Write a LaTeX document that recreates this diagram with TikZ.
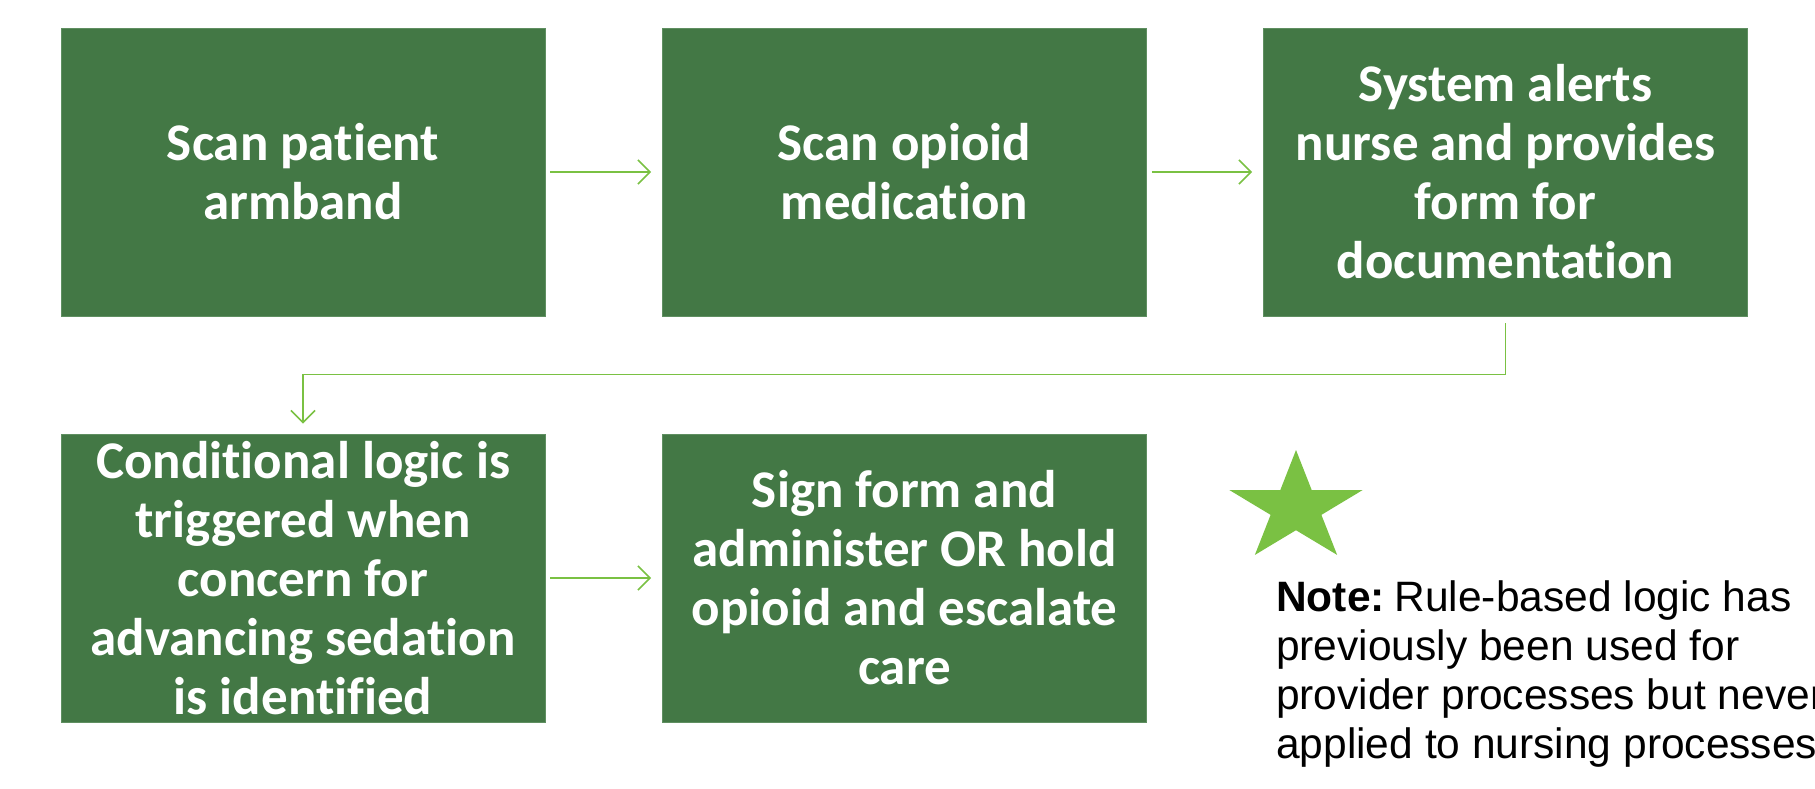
\documentclass[tikz,border=0pt]{standalone}
\usepackage{fontspec}
\setmainfont{Carlito}[Ligatures=NoCommon]
\newfontfamily\notefont{Liberation Sans}
\usetikzlibrary{arrows.meta}
\definecolor{boxgreen}{HTML}{437845}
\definecolor{boxedge}{HTML}{5F8F61}
\definecolor{linegreen}{HTML}{7AC143}
\definecolor{stargreen}{HTML}{7AC143}
\begin{document}
\begin{tikzpicture}[x=1pt,y=-1pt,
  stepbox/.style={draw=boxedge, line width=0.8pt, fill=boxgreen, text=white,
    align=center, inner sep=0pt, minimum width=484pt, minimum height=288pt,
    font=\fontsize{53}{59}\selectfont\bfseries},
  flow/.style={draw=linegreen, line width=1.6pt,
    -{Straight Barb[length=12pt,width=24pt,line width=1.6pt]}},
  notetext/.style={anchor=base west, inner sep=0pt,
    font=\notefont\fontsize{42.5}{49}\selectfont}]
\useasboundingbox (0,0) rectangle (1815,788);
\fill[white] (0,0) rectangle (1815,788);
\node[stepbox] (b1) at (303,172) {Scan patient\\armband};
\node[stepbox] (b2) at (904.5,172) {Scan opioid\\medication};
\node[stepbox] (b3) at (1505.5,172) {System alerts\\nurse and provides\\form for\\documentation};
\node[stepbox] (b4) at (303,578) {Conditional logic is\\triggered when\\concern for\\advancing sedation\\is identified};
\node[stepbox] (b5) at (904.5,578) {Sign form and\\administer OR hold\\opioid and escalate\\care};
\draw[flow, shorten <=5pt, shorten >=11pt] (b1) -- (b2);
\draw[flow, shorten <=5pt, shorten >=11pt] (b2) -- (b3);
\draw[flow, shorten <=7pt, shorten >=10pt] (b3.south) -- ++(0,58) -| (b4.north);
\draw[flow, shorten <=5pt, shorten >=11pt] (b4) -- (b5);
\fill[stargreen] (1296,508) +(-90:70 and 58)
  \foreach \k in {0,...,4}{ -- +({-54+72*\k}:26.7 and 22.2) -- +({-18+72*\k}:70 and 58)} -- cycle;
\node[notetext] (n1) at (1276,611) {\textbf{Note:}\kern-2pt\ Rule-based logic has};
\node[notetext] (n2) at (1276,660) {previously been used for};
\node[notetext] (n3) at (1276,709) {provider processes but never};
\node[notetext] (n4) at (1276,758) {applied to nursing processes};
\end{tikzpicture}
\end{document}
